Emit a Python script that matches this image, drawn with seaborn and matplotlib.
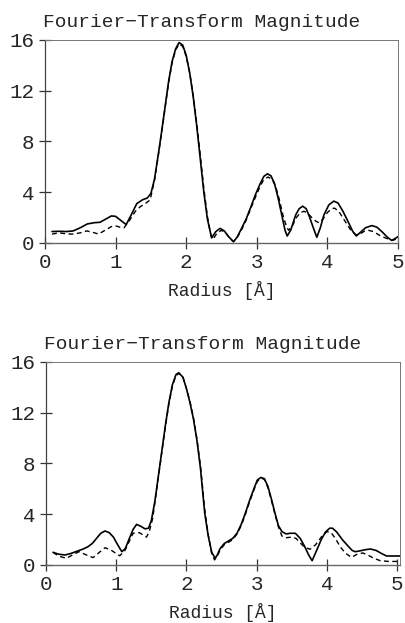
import numpy as np
import pandas as pd
import matplotlib
matplotlib.use("Agg")
import matplotlib.pyplot as plt
import seaborn as sns

# Panel 1: Fourier-transform magnitude vs radius
r1_solid = [0.10, 0.20, 0.30, 0.40, 0.50, 0.60, 0.70, 0.78, 0.85, 0.94, 1.00, 1.08, 1.15,
            1.22, 1.30, 1.38, 1.45, 1.50, 1.55, 1.60, 1.65, 1.70, 1.75, 1.80, 1.85, 1.90,
            1.95, 2.00, 2.05, 2.10, 2.15, 2.20, 2.25, 2.30, 2.36, 2.42, 2.48, 2.54, 2.60,
            2.67, 2.72, 2.78, 2.85, 2.92, 2.98, 3.05, 3.10, 3.15, 3.20, 3.25, 3.30, 3.35,
            3.40, 3.43, 3.48, 3.55, 3.60, 3.65, 3.70, 3.75, 3.80, 3.85, 3.90, 3.95, 4.02,
            4.09, 4.15, 4.22, 4.30, 4.36, 4.41, 4.47, 4.54, 4.63, 4.70, 4.78, 4.85, 4.91,
            4.96, 5.00]
m1_solid = [0.90, 0.92, 0.90, 0.95, 1.20, 1.50, 1.60, 1.63, 1.85, 2.13, 2.10, 1.75, 1.45,
            2.20, 3.10, 3.40, 3.55, 3.90, 5.00, 6.80, 8.70, 10.7, 12.7, 14.3, 15.3, 15.8,
            15.6, 14.8, 13.4, 11.5, 9.20, 6.60, 4.00, 1.90, 0.40, 0.90, 1.15, 0.95, 0.50,
            0.10, 0.45, 1.10, 1.90, 2.90, 3.80, 4.70, 5.25, 5.45, 5.30, 4.70, 3.60, 2.30,
            1.00, 0.55, 1.00, 2.20, 2.70, 2.90, 2.70, 2.00, 1.20, 0.45, 1.20, 2.20, 3.00,
            3.30, 3.15, 2.50, 1.60, 0.90, 0.55, 0.85, 1.20, 1.37, 1.25, 0.85, 0.45, 0.20,
            0.35, 0.50]

r1_dash = [0.10, 0.20, 0.30, 0.40, 0.50, 0.59, 0.67, 0.76, 0.85, 0.94, 1.00, 1.06, 1.12,
           1.20, 1.28, 1.35, 1.42, 1.49, 1.55, 1.60, 1.65, 1.70, 1.75, 1.80, 1.85, 1.90,
           1.95, 2.00, 2.05, 2.10, 2.15, 2.20, 2.25, 2.30, 2.35, 2.38, 2.44, 2.50, 2.56,
           2.62, 2.67, 2.72, 2.78, 2.85, 2.92, 2.98, 3.05, 3.10, 3.16, 3.22, 3.27, 3.32,
           3.37, 3.42, 3.45, 3.50, 3.56, 3.62, 3.67, 3.72, 3.78, 3.84, 3.88, 3.94, 4.00,
           4.06, 4.10, 4.16, 4.24, 4.32, 4.40, 4.46, 4.53, 4.58, 4.65, 4.74, 4.84, 4.92,
           5.00]
m1_dash = [0.70, 0.80, 0.72, 0.70, 0.80, 0.95, 0.85, 0.70, 1.00, 1.29, 1.35, 1.25, 1.20,
           1.80, 2.50, 2.86, 3.10, 3.40, 4.90, 6.70, 8.60, 10.6, 12.6, 14.2, 15.2, 15.7,
           15.5, 14.7, 13.4, 11.6, 9.40, 6.90, 4.30, 2.10, 0.60, 0.30, 0.80, 1.00, 0.80,
           0.35, 0.10, 0.40, 1.00, 1.80, 2.80, 3.60, 4.50, 5.00, 5.20, 5.00, 4.40, 3.40,
           2.20, 1.30, 1.00, 1.30, 2.00, 2.40, 2.50, 2.35, 2.00, 1.70, 1.60, 1.90, 2.40,
           2.70, 2.75, 2.50, 1.80, 1.10, 0.65, 0.70, 0.95, 1.00, 0.90, 0.60, 0.35, 0.20,
           0.35]

# Panel 2
r2_solid = [0.10, 0.18, 0.27, 0.35, 0.45, 0.53, 0.60, 0.66, 0.72, 0.78, 0.84, 0.90, 0.96,
            1.02, 1.08, 1.13, 1.18, 1.24, 1.29, 1.35, 1.41, 1.46, 1.50, 1.55, 1.60, 1.65,
            1.70, 1.75, 1.80, 1.85, 1.89, 1.95, 2.00, 2.05, 2.10, 2.15, 2.20, 2.26, 2.31,
            2.36, 2.41, 2.44, 2.48, 2.54, 2.60, 2.66, 2.72, 2.78, 2.84, 2.90, 2.96, 3.01,
            3.06, 3.11, 3.16, 3.21, 3.26, 3.31, 3.36, 3.42, 3.48, 3.55, 3.62, 3.68, 3.74,
            3.79, 3.85, 3.92, 3.98, 4.04, 4.08, 4.14, 4.22, 4.30, 4.36, 4.40, 4.46, 4.54,
            4.62, 4.70, 4.78, 4.85, 4.95, 5.05]
m2_solid = [1.00, 0.85, 0.79, 0.90, 1.10, 1.26, 1.45, 1.70, 2.10, 2.50, 2.68, 2.55, 2.20,
            1.60, 1.05, 1.30, 2.00, 2.80, 3.20, 3.05, 2.85, 2.90, 3.50, 5.00, 7.00, 9.00,
            11.0, 12.8, 14.2, 15.0, 15.15, 14.8, 13.9, 12.8, 11.5, 9.80, 7.60, 4.10, 2.30,
            1.00, 0.53, 0.80, 1.30, 1.70, 1.90, 2.10, 2.50, 3.20, 4.10, 5.10, 6.00, 6.70,
            6.90, 6.80, 6.20, 5.20, 4.10, 3.10, 2.63, 2.45, 2.50, 2.50, 2.10, 1.50, 0.80,
            0.34, 1.10, 2.00, 2.60, 2.90, 2.90, 2.60, 2.00, 1.50, 1.15, 1.05, 1.10, 1.20,
            1.26, 1.15, 0.90, 0.71, 0.71, 0.71]

r2_dash = [0.10, 0.18, 0.29, 0.38, 0.47, 0.55, 0.67, 0.76, 0.84, 0.92, 1.00, 1.05, 1.12,
           1.18, 1.24, 1.33, 1.40, 1.43, 1.47, 1.52, 1.55, 1.60, 1.65, 1.70, 1.75, 1.80,
           1.85, 1.89, 1.95, 2.00, 2.05, 2.10, 2.15, 2.20, 2.26, 2.31, 2.36, 2.40, 2.44,
           2.48, 2.54, 2.60, 2.66, 2.72, 2.78, 2.84, 2.90, 2.96, 3.01, 3.06, 3.11, 3.16,
           3.21, 3.26, 3.31, 3.36, 3.42, 3.50, 3.56, 3.62, 3.68, 3.76, 3.84, 3.92, 4.00,
           4.06, 4.12, 4.19, 4.26, 4.35, 4.43, 4.51, 4.58, 4.66, 4.76, 4.88, 5.05]
m2_dash = [1.00, 0.70, 0.53, 0.80, 1.05, 0.85, 0.58, 1.00, 1.36, 1.20, 0.90, 0.73, 1.10,
           1.80, 2.50, 2.55, 2.30, 2.20, 2.60, 3.70, 4.90, 6.90, 8.90, 10.9, 12.7, 14.1,
           14.9, 15.1, 14.8, 13.9, 12.9, 11.6, 9.90, 7.80, 4.40, 2.40, 0.90, 0.40, 0.70,
           1.20, 1.60, 1.80, 2.00, 2.45, 3.10, 4.00, 5.00, 5.90, 6.60, 6.85, 6.75, 6.10,
           5.10, 4.00, 3.00, 2.28, 2.15, 2.20, 2.10, 1.75, 1.40, 1.24, 1.60, 2.20, 2.63,
           2.55, 2.10, 1.44, 0.95, 0.60, 0.85, 0.95, 0.80, 0.55, 0.34, 0.28, 0.28]

title_text = "Fourier\u2212Transform Magnitude"
xlabel_text = "Radius [\u00c5]"
y_ticks = [0, 4, 8, 12, 16]
x_ticks = [0, 1, 2, 3, 4, 5]

sns.set_theme(style="ticks")
plt.rcParams["font.family"] = ["Liberation Mono", "DejaVu Sans Mono"]

fig = plt.figure(figsize=(4.06, 6.23), dpi=100)
ax1 = fig.add_axes([0.1108, 0.610, 0.8695, 0.3258])
ax2 = fig.add_axes([0.1133, 0.0931, 0.8717, 0.3259])

panels = [
    (ax1, r1_solid, m1_solid, r1_dash, m1_dash, 5.0),
    (ax2, r2_solid, m2_solid, r2_dash, m2_dash, 5.04),
]

for ax, rs, ms, rd, md, xmax in panels:
    solid = pd.DataFrame({"radius": rs, "magnitude": ms})
    dashed = pd.DataFrame({"radius": rd, "magnitude": md})
    sns.lineplot(data=solid, x="radius", y="magnitude", ax=ax, color="black",
                 lw=1.2, estimator=None, sort=False)
    sns.lineplot(data=dashed, x="radius", y="magnitude", ax=ax, color="black",
                 lw=1.0, estimator=None, sort=False, dashes=False,
                 linestyle=(0, (3.5, 2.5)))
    ax.set_xlim(0, xmax)
    ax.set_ylim(0, 16)
    ax.set_xticks(x_ticks)
    ax.set_yticks(y_ticks)
    ax.tick_params(direction="inout", length=9, width=0.9, color="#333333",
                   labelsize=15, pad=3)
    ax.set_title(title_text, loc="left", fontsize=14, pad=9, x=-0.005)
    ax.set_xlabel(xlabel_text, fontsize=13, labelpad=6)
    ax.set_ylabel("")
    for side in ["top", "right"]:
        ax.spines[side].set_color("#777777")
        ax.spines[side].set_linewidth(0.7)
    ax.spines["left"].set_color("#444444")
    ax.spines["left"].set_linewidth(0.9)
    ax.spines["bottom"].set_color("#666666")
    ax.spines["bottom"].set_linewidth(1.0)

fig.savefig("out.png", dpi=100)
